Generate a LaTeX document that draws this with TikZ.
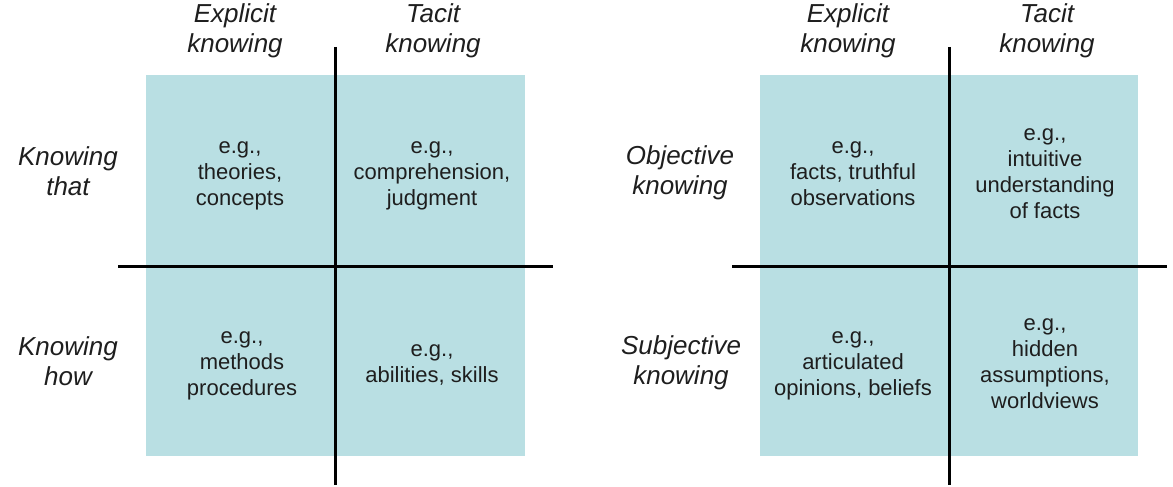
\documentclass[tikz,border=0pt]{standalone}
\usepackage{fontspec}
\setmainfont{Liberation Sans}
\usetikzlibrary{positioning}
\definecolor{cellteal}{RGB}{185,223,227}
\definecolor{inkgray}{RGB}{30,30,30}

\begin{document}
\begin{tikzpicture}[x=1pt, y=-1pt,
    cell/.style={font=\fontsize{22}{26}\selectfont, align=center, anchor=base, text=inkgray},
    head/.style={font=\fontsize{26}{30}\selectfont\itshape, align=center, anchor=base, text=inkgray},
    axis/.style={line width=3pt, black}]
    \useasboundingbox (0,0) rectangle (1173,487);
    % left matrix: that / how
    \fill[cellteal] (146,75) rectangle (525,456);
    \coordinate (ltop) at (335,47);
    \coordinate (lbot) at (335,485);
    \coordinate (lleft) at (118,266);
    \coordinate (lright) at (553,266);
    \draw[axis] (ltop) -- (lbot);
    \draw[axis] (lleft) -- (lright);
    \node[head] (lexplicit) at (235,53) {Explicit\\knowing};
    \node[head] (ltacit) at (433,53) {Tacit\\knowing};
    \node[head] (lthat) at (68,195) {Knowing\\that};
    \node[head] (lhow) at (68,385) {Knowing\\how};
    \node[cell] (lthatexp) at (240,205) {e.g.,\\theories,\\concepts};
    \node[cell] (lthattac) at (432,205) {e.g.,\\comprehension,\\judgment};
    \node[cell] (lhowexp) at (242,395) {e.g.,\\methods\\procedures};
    \node[cell] (lhowtac) at (432,382) {e.g.,\\abilities, skills};
    % right matrix: objective / subjective
    \fill[cellteal] (760,75) rectangle (1138,456);
    \coordinate (rtop) at (949,47);
    \coordinate (rbot) at (949,485);
    \coordinate (rleft) at (732,266);
    \coordinate (rright) at (1167,266);
    \draw[axis] (rtop) -- (rbot);
    \draw[axis] (rleft) -- (rright);
    \node[head] (rexplicit) at (848,53) {Explicit\\knowing};
    \node[head] (rtacit) at (1047,53) {Tacit\\knowing};
    \node[head] (robj) at (680,194) {Objective\\knowing};
    \node[head] (rsubj) at (681,384) {Subjective\\knowing};
    \node[cell] (robjexp) at (853,205) {e.g.,\\facts, truthful\\observations};
    \node[cell] (robjtac) at (1045,218) {e.g.,\\intuitive\\understanding\\of facts};
    \node[cell] (rsubjexp) at (853,395) {e.g.,\\articulated\\opinions, beliefs};
    \node[cell] (rsubjtac) at (1045,408) {e.g.,\\hidden\\assumptions,\\worldviews};
\end{tikzpicture}
\end{document}
